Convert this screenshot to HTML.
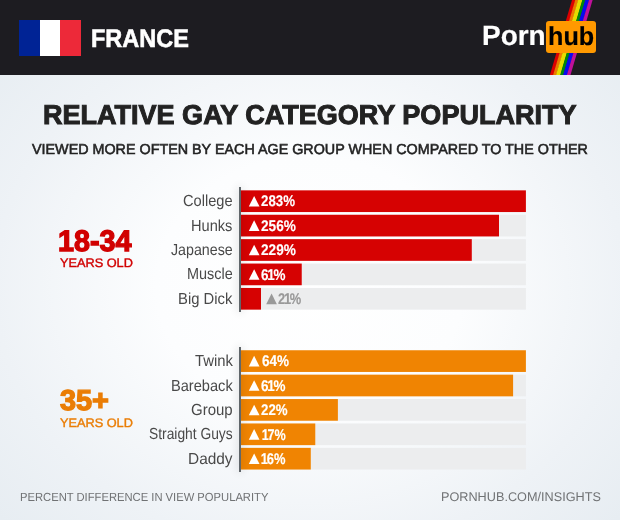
<!DOCTYPE html>
<html><head><meta charset="utf-8"><title>France</title>
<style>
html,body{margin:0;padding:0}
body{width:620px;height:520px;position:relative;overflow:hidden;font-family:"Liberation Sans",sans-serif;
background:radial-gradient(ellipse 62% 62% at 50% 55%,#ffffff 0%,#fcfdfe 40%,#eef2f6 82%,#e7edf2 108%);}
.hdr{position:absolute;left:0;top:0;width:620px;height:75px;background:#1d1c21;overflow:hidden}
.t{position:absolute;white-space:nowrap;line-height:1;transform-origin:0 0;font-family:"Liberation Sans",sans-serif;text-rendering:geometricPrecision}
.flag{position:absolute;left:19px;top:20px;width:62px;height:36px;background:linear-gradient(90deg,#002395 0 33.33%,#fff 33.33% 66.67%,#ed2939 66.67% 100%)}
.hubbox{position:absolute;left:545.8px;top:20.8px;width:50px;height:32.2px;border-radius:3px;background:#ff9900}
.rainbow{position:absolute;left:0;top:0}
.axsh{position:absolute;left:239px;width:2px;background:#60666a;box-shadow:0 0 8px rgba(0,0,0,.3)}
.chart{position:absolute;left:0;top:0}
</style></head><body>
<div class="hdr">
<svg class="rainbow" width="620" height="75" viewBox="0 0 620 75">
<g>
<polygon points="572.0,0 575.5,0 553.4,75 549.9,75" fill="#dd0000"/>
<polygon points="575.2,0 578.4,0 556.3,75 553.1,75" fill="#ee7700"/>
<polygon points="578.1,0 582.6,0 560.5,75 556.0,75" fill="#e6dc00"/>
<polygon points="582.3,0 585.5,0 563.4,75 560.2,75" fill="#00880a"/>
<polygon points="585.2,0 589.3,0 567.2,75 563.1,75" fill="#0a0aee"/>
<polygon points="589.0,0 592.6,0 570.5,75 566.9,75" fill="#c0109a"/>
</g></svg>
<div class="flag"></div>
<div class="hubbox"></div>
</div>
<svg class="chart" width="620" height="520" viewBox="0 0 620 520">
<rect x="240.9" y="190.35" width="285.00" height="21.7" fill="#d60202"/>
<rect x="499.00" y="214.75" width="26.90" height="21.7" fill="#ecedee"/>
<rect x="240.9" y="214.75" width="258.10" height="21.7" fill="#d60202"/>
<rect x="471.80" y="239.15" width="54.10" height="21.7" fill="#ecedee"/>
<rect x="240.9" y="239.15" width="230.90" height="21.7" fill="#d60202"/>
<rect x="301.75" y="263.55" width="224.15" height="21.7" fill="#ecedee"/>
<rect x="240.9" y="263.55" width="60.85" height="21.7" fill="#d60202"/>
<rect x="261.00" y="287.95" width="264.90" height="21.7" fill="#ecedee"/>
<rect x="240.9" y="287.95" width="20.10" height="21.7" fill="#d60202"/>
<rect x="240.9" y="350.25" width="285.00" height="21.7" fill="#f08402"/>
<rect x="513.10" y="374.65" width="12.80" height="21.7" fill="#ecedee"/>
<rect x="240.9" y="374.65" width="272.20" height="21.7" fill="#f08402"/>
<rect x="337.90" y="399.05" width="188.00" height="21.7" fill="#ecedee"/>
<rect x="240.9" y="399.05" width="97.00" height="21.7" fill="#f08402"/>
<rect x="315.30" y="423.45" width="210.60" height="21.7" fill="#ecedee"/>
<rect x="240.9" y="423.45" width="74.40" height="21.7" fill="#f08402"/>
<rect x="310.80" y="447.85" width="215.10" height="21.7" fill="#ecedee"/>
<rect x="240.9" y="447.85" width="69.90" height="21.7" fill="#f08402"/>
</svg>
<div class="axsh" style="top:187px;height:124.6px"></div>
<div class="axsh" style="top:347.2px;height:124.6px"></div>
<svg class="chart" width="620" height="520" viewBox="0 0 620 520">
<polygon points="254.15,195.95 259.50,206.55 248.80,206.55" fill="#fff"/>
<polygon points="254.15,220.35 259.50,230.95 248.80,230.95" fill="#fff"/>
<polygon points="254.15,244.75 259.50,255.35 248.80,255.35" fill="#fff"/>
<polygon points="254.15,269.15 259.50,279.75 248.80,279.75" fill="#fff"/>
<polygon points="271.55,293.55 276.90,304.15 266.20,304.15" fill="#999"/>
<polygon points="254.15,355.85 259.50,366.45 248.80,366.45" fill="#fff"/>
<polygon points="254.15,380.25 259.50,390.85 248.80,390.85" fill="#fff"/>
<polygon points="254.15,404.65 259.50,415.25 248.80,415.25" fill="#fff"/>
<polygon points="254.15,429.05 259.50,439.65 248.80,439.65" fill="#fff"/>
<polygon points="254.15,453.45 259.50,464.05 248.80,464.05" fill="#fff"/>
</svg>
<span class="t" style="left:91.27px;top:26.79px;font-size:25.5px;font-weight:700;color:#fff;-webkit-text-stroke:0.6px #fff;transform:scaleX(0.9218)">FRANCE</span>
<span class="t" style="left:481.72px;top:22.00px;font-size:28.0px;font-weight:700;color:#fff;-webkit-text-stroke:0.2px #fff;transform:scaleX(0.9988)">Porn</span>
<span class="t" style="left:547.87px;top:23.24px;font-size:26.0px;font-weight:700;color:#000;-webkit-text-stroke:0.2px #000;transform:scaleX(0.9681)">hub</span>
<span class="t" style="left:42.87px;top:100.70px;font-size:27.25px;font-weight:700;color:#222;-webkit-text-stroke:1.0px #222;transform:scaleX(0.9916)">RELATIVE GAY CATEGORY POPULARITY</span>
<span class="t" style="left:32.14px;top:143.31px;font-size:14.375px;font-weight:400;color:#222;-webkit-text-stroke:0.55px #222;transform:scaleX(0.9982)">VIEWED MORE OFTEN BY EACH AGE GROUP WHEN COMPARED TO THE OTHER</span>
<span class="t" style="left:58.01px;top:226.99px;font-size:29.75px;font-weight:700;color:#d10000;-webkit-text-stroke:1.3px #d10000;transform:scaleX(0.9671)">18-34</span>
<span class="t" style="left:60.44px;top:256.97px;font-size:12.375px;font-weight:400;color:#d10000;-webkit-text-stroke:0.4px #d10000;transform:scaleX(1.0298)">YEARS OLD</span>
<span class="t" style="left:60.04px;top:387.24px;font-size:28.875px;font-weight:700;color:#ea7d05;-webkit-text-stroke:1.3px #ea7d05;transform:scaleX(0.9998)">35+</span>
<span class="t" style="left:60.44px;top:416.97px;font-size:12.375px;font-weight:400;color:#ea7d05;-webkit-text-stroke:0.4px #ea7d05;transform:scaleX(1.0298)">YEARS OLD</span>
<span class="t" style="left:20.39px;top:491.91px;font-size:11.75px;font-weight:400;color:#707274;transform:scaleX(0.9544)">PERCENT DIFFERENCE IN VIEW POPULARITY</span>
<span class="t" style="left:440.98px;top:490.80px;font-size:12.625px;font-weight:400;color:#707274;transform:scaleX(1.0053)">PORNHUB.COM/INSIGHTS</span>
<span class="t" style="left:183.09px;top:194.40px;font-size:16.0px;font-weight:400;color:#494949;transform:scaleX(0.9142)">College</span>
<span class="t" style="left:260.68px;top:194.35px;font-size:15.5px;font-weight:700;color:#fff;-webkit-text-stroke:0.15px #fff;transform:scaleX(0.8575)">283%</span>
<span class="t" style="left:191.48px;top:218.70px;font-size:16.0px;font-weight:400;color:#494949;transform:scaleX(0.9123)">Hunks</span>
<span class="t" style="left:260.62px;top:218.67px;font-size:15.5px;font-weight:700;color:#fff;-webkit-text-stroke:0.15px #fff;transform:scaleX(0.8813)">256%</span>
<span class="t" style="left:171.49px;top:243.00px;font-size:16.0px;font-weight:400;color:#494949;transform:scaleX(0.8894)">Japanese</span>
<span class="t" style="left:260.62px;top:243.22px;font-size:15.5px;font-weight:700;color:#fff;-webkit-text-stroke:0.15px #fff;transform:scaleX(0.8813)">229%</span>
<span class="t" style="left:187.15px;top:267.30px;font-size:16.0px;font-weight:400;color:#494949;transform:scaleX(0.9024)">Muscle</span>
<span class="t" style="left:261.19px;top:268.00px;font-size:15.5px;font-weight:700;color:#fff;-webkit-text-stroke:0.15px #fff;transform:scaleX(0.8695)">6<span style="margin:0 -1.5px">1</span>%</span>
<span class="t" style="left:178.37px;top:291.60px;font-size:16.0px;font-weight:400;color:#494949;transform:scaleX(0.9257)">Big Dick</span>
<span class="t" style="left:278.29px;top:291.80px;font-size:15.5px;font-weight:700;color:#999;-webkit-text-stroke:0.15px #999;transform:scaleX(0.8313)">2<span style="margin:0 -1.5px">1</span>%</span>
<span class="t" style="left:194.92px;top:353.70px;font-size:16.0px;font-weight:400;color:#494949;transform:scaleX(0.9268)">Twink</span>
<span class="t" style="left:261.70px;top:353.90px;font-size:15.5px;font-weight:700;color:#fff;-webkit-text-stroke:0.15px #fff;transform:scaleX(0.8733)">64%</span>
<span class="t" style="left:170.98px;top:378.50px;font-size:16.0px;font-weight:400;color:#494949;transform:scaleX(0.9126)">Bareback</span>
<span class="t" style="left:261.19px;top:378.70px;font-size:15.5px;font-weight:700;color:#fff;-webkit-text-stroke:0.15px #fff;transform:scaleX(0.8695)">6<span style="margin:0 -1.5px">1</span>%</span>
<span class="t" style="left:191.33px;top:403.30px;font-size:16.0px;font-weight:400;color:#494949;transform:scaleX(0.9363)">Group</span>
<span class="t" style="left:261.12px;top:403.25px;font-size:15.5px;font-weight:700;color:#fff;-webkit-text-stroke:0.15px #fff;transform:scaleX(0.8584)">22%</span>
<span class="t" style="left:149.20px;top:427.10px;font-size:16.0px;font-weight:400;color:#494949;transform:scaleX(0.8628)">Straight Guys</span>
<span class="t" style="left:262.70px;top:427.55px;font-size:15.5px;font-weight:700;color:#fff;-webkit-text-stroke:0.15px #fff;transform:scaleX(0.8153)"><span style="margin:0 -1.5px">1</span>7%</span>
<span class="t" style="left:188.44px;top:451.90px;font-size:16.0px;font-weight:400;color:#494949;transform:scaleX(0.9629)">Daddy</span>
<span class="t" style="left:262.13px;top:452.10px;font-size:15.5px;font-weight:700;color:#fff;-webkit-text-stroke:0.15px #fff;transform:scaleX(0.8339)"><span style="margin:0 -1.5px">1</span>6%</span>
</body></html>
